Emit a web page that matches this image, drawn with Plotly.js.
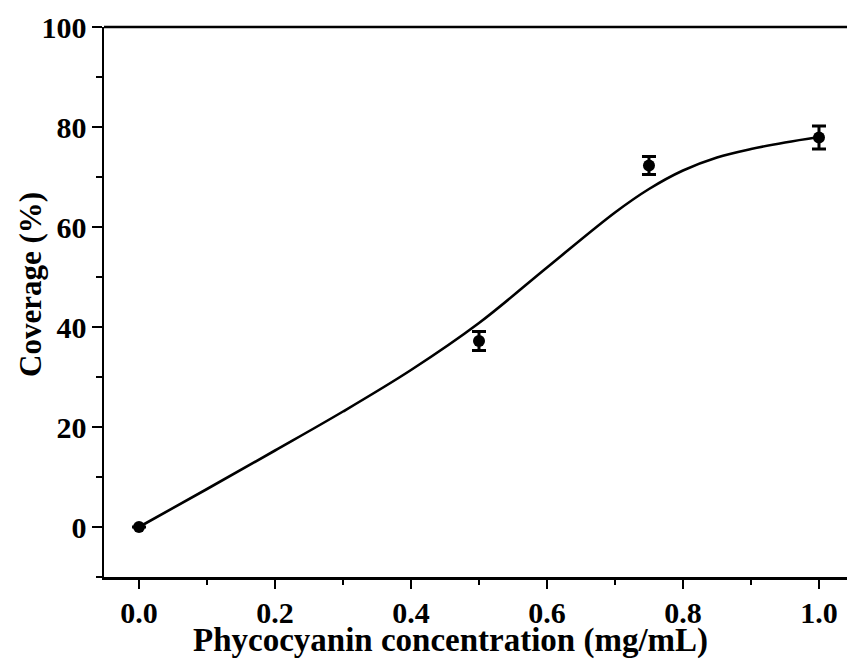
<!DOCTYPE html>
<html>
<head>
<meta charset="utf-8">
<script src="https://cdn.plot.ly/plotly-3.0.1.min.js"></script>
<style>html,body{margin:0;padding:0;background:#fff;}#chart{width:847px;height:659px;}</style>
</head>
<body>
<div id="chart"></div>
<script>
// Measured data points (mean ± error)
const concentration = [0, 0.5, 0.75, 1.0];
const coverage = [0, 37.2, 72.3, 77.9];
const coverageErr = [0, 1.9, 1.8, 2.3];

// Fitted curve
const fitX = [0, 0.1, 0.2, 0.3, 0.4, 0.5, 0.6, 0.7, 0.75, 0.8, 0.85, 0.9, 0.95, 1.0];
const fitY = [0, 7.6, 15.3, 23.1, 31.4, 40.8, 51.9, 62.9, 67.6, 71.3, 73.9, 75.6, 76.9, 78.0];

// Tick values and labels
const xTickVals = [0, 0.2, 0.4, 0.6, 0.8, 1.0];
const xTickText = ['0.0', '0.2', '0.4', '0.6', '0.8', '1.0'];
const yTickVals = [0, 20, 40, 60, 80, 100];
const yTickText = ['0', '20', '40', '60', '80', '100'];

const xTitle = 'Phycocyanin concentration (mg/mL)';
const yTitle = 'Coverage (%)';

const serif = 'Liberation Serif, Times New Roman, serif';
const tickFont = {family: serif, size: 30, color: '#000'};

const traces = [
  {
    x: fitX, y: fitY, type: 'scatter', mode: 'lines',
    line: {color: '#000', width: 2.6, shape: 'spline', smoothing: 1},
    hoverinfo: 'skip', showlegend: false
  },
  {
    x: concentration, y: coverage, type: 'scatter', mode: 'markers',
    marker: {color: '#000', size: 12, symbol: 'circle'},
    error_y: {type: 'data', array: coverageErr, visible: true, color: '#000', thickness: 3, width: 7},
    showlegend: false
  }
];

const layout = {
  width: 847, height: 659,
  margin: {l: 104, r: 0, t: 27, b: 82, pad: 0},
  paper_bgcolor: '#fff', plot_bgcolor: '#fff',
  showlegend: false,
  xaxis: {
    range: [-0.0515, 1.0412], tickmode: 'array', tickvals: xTickVals,
    ticktext: xTickText.map(t => '<b>' + t + '</b>'),
    ticks: 'outside', ticklen: 9, tickwidth: 2.5, tickcolor: '#000',
    showline: true, linewidth: 2.5, linecolor: '#000',
    showgrid: false, zeroline: false, tickfont: tickFont, ticklabelstandoff: -2,
    minor: {dtick: 0.1, tick0: 0, ticks: 'outside', ticklen: 5, tickwidth: 2.5, tickcolor: '#000', showgrid: false}
  },
  yaxis: {
    range: [-10, 100], tickmode: 'array', tickvals: yTickVals,
    ticktext: yTickText.map(t => '<b>' + t + '</b>'),
    ticks: 'outside', ticklen: 10, tickwidth: 2.5, tickcolor: '#000',
    showline: true, linewidth: 2.5, linecolor: '#000',
    showgrid: false, zeroline: false, tickfont: tickFont, ticklabelstandoff: -1,
    minor: {dtick: 10, tick0: 0, ticks: 'outside', ticklen: 6, tickwidth: 2.5, tickcolor: '#000', showgrid: false}
  },
  shapes: [
    {type: 'line', xref: 'paper', yref: 'paper', x0: 0, x1: 1, y0: 1, y1: 1, line: {color: '#000', width: 2.5}}
  ],
  annotations: [
    {text: '<b>' + xTitle + '</b>', xref: 'paper', yref: 'paper', x: (450 - 104) / 743, y: -(640 - 577) / 550,
     xanchor: 'center', yanchor: 'middle', showarrow: false,
     font: {family: serif, size: 33, color: '#000'}},
    {text: '<b>' + yTitle + '</b>', xref: 'paper', yref: 'paper', x: -(104 - 30) / 743, y: (577 - 285) / 550,
     xanchor: 'center', yanchor: 'middle', textangle: -90, showarrow: false,
     font: {family: serif, size: 31, color: '#000'}}
  ]
};

Plotly.newPlot('chart', traces, layout, {displayModeBar: false, staticPlot: true});
</script>
</body>
</html>
